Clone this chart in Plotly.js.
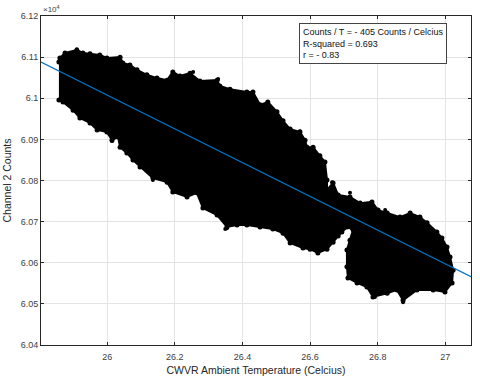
<!DOCTYPE html>
<html>
<head>
<meta charset="utf-8">
<script src="https://cdn.plot.ly/plotly-3.0.1.min.js"></script>
<style>
  html, body { margin: 0; padding: 0; background: #fff; }
  #chart { width: 480px; height: 382px; }
</style>
</head>
<body>
<div id="chart"></div>
<script>
// outline of the dense point cloud (clockwise from upper left)
const cloudT = [25.857, 25.860, 25.875, 25.910, 25.928, 25.949, 25.978, 25.999, 26.038, 26.046,
    26.067, 26.088, 26.117, 26.147, 26.177, 26.194, 26.215, 26.245, 26.274, 26.325,
    26.333, 26.363, 26.413, 26.431, 26.452, 26.475, 26.502, 26.520, 26.541, 26.570,
    26.585, 26.591, 26.609, 26.629, 26.644, 26.650, 26.650, 26.668, 26.683, 26.718,
    26.748, 26.783, 26.801, 26.828, 26.866, 26.896, 26.925, 26.946, 26.975, 26.990,
    27.005, 27.014, 27.023, 27.020, 26.999, 26.964, 26.916, 26.875, 26.857, 26.828,
    26.786, 26.768, 26.739, 26.712, 26.709, 26.709, 26.718, 26.727, 26.709, 26.694,
    26.683, 26.668, 26.650, 26.623, 26.600, 26.579, 26.541, 26.520, 26.490, 26.452,
    26.413, 26.384, 26.354, 26.325, 26.283, 26.265, 26.236, 26.194, 26.177, 26.135,
    26.097, 26.076, 26.058, 26.038, 26.032, 26.014, 25.999, 25.970, 25.949, 25.919,
    25.899, 25.869, 25.857];
const cloudCounts = [61088, 61098, 61110, 61117, 61110, 61108, 61105, 61098, 61100, 61086,
    61081, 61069, 61057, 61049, 61044, 61064, 61054, 61061, 61042, 61044,
    61030, 61022, 61015, 61015, 60984, 60991, 60967, 60945, 60925, 60918,
    60898, 60881, 60881, 60860, 60845, 60801, 60777, 60794, 60765, 60760,
    60745, 60748, 60728, 60721, 60711, 60721, 60711, 60697, 60675, 60660,
    60638, 60614, 60582, 60551, 60529, 60534, 60534, 60509, 60534, 60526,
    60517, 60541, 60551, 60563, 60590, 60631, 60655, 60680, 60687, 60675,
    60665, 60650, 60633, 60624, 60633, 60636, 60648, 60672, 60682, 60687,
    60692, 60692, 60687, 60716, 60733, 60770, 60760, 60772, 60796, 60806,
    60833, 60850, 60867, 60881, 60906, 60898, 60918, 60923, 60940, 60952,
    60971, 60991, 60996];

// loose points sitting just outside the cloud
const strayT = [25.910, 26.254, 26.280, 26.328, 26.570, 26.665, 26.718, 26.822, 26.792,
    26.354, 26.135, 26.014, 26.875, 26.269, 26.198, 26.349];
const strayCounts = [61119, 61064, 61037, 61047, 60920, 60796, 60770, 60728, 60517,
    60684, 60801, 60896, 60504, 61039, 60774, 60682];

// least-squares fit line ends
const fitT = [25.804, 27.076];
const fitCounts = [61088, 60566];

const yTicks = [60400, 60500, 60600, 60700, 60800, 60900, 61000, 61100, 61200];
const yTickText = ['6.04', '6.05', '6.06', '6.07', '6.08', '6.09', '6.1', '6.11', '6.12'];
const xTicks = [26, 26.2, 26.4, 26.6, 26.8, 27];
const xTickText = ['26', '26.2', '26.4', '26.6', '26.8', '27'];

const statLines = ['Counts / T = - 405 Counts / Celcius', 'R-squared = 0.693', 'r = - 0.83'];

const font = 'Liberation Sans, Arial, sans-serif';
const axisColor = '#262626';

Plotly.newPlot('chart', [{
    x: cloudT,
    y: cloudCounts,
    type: 'scatter',
    mode: 'lines+markers',
    fill: 'toself',
    fillcolor: '#000',
    line: { color: '#000', width: 2 },
    marker: { color: '#000', size: 5 },
    showlegend: false,
    hoverinfo: 'skip',
}, {
    x: strayT,
    y: strayCounts,
    type: 'scatter',
    mode: 'markers',
    marker: { color: '#000', size: 4 },
    showlegend: false,
}, {
    x: fitT,
    y: fitCounts,
    type: 'scatter',
    mode: 'lines',
    line: { color: '#0072BD', width: 1.2 },
    showlegend: false,
}], {
    width: 480,
    height: 382,
    margin: { l: 41, r: 9, t: 16, b: 37 },
    paper_bgcolor: '#fff',
    plot_bgcolor: '#fff',
    font: { family: font, size: 9, color: axisColor },
    xaxis: {
        range: [25.804, 27.076],
        tickvals: xTicks,
        ticktext: xTickText,
        ticks: 'inside',
        ticklen: 3,
        tickcolor: axisColor,
        showline: true,
        linecolor: axisColor,
        linewidth: 1,
        mirror: 'ticks',
        showgrid: true,
        gridcolor: '#e4e4e4',
        zeroline: false,
        ticklabelstandoff: 3,
        tickfont: { size: 9, color: '#404040' },
        title: { text: 'CWVR Ambient Temperature (Celcius)', font: { size: 10.5, color: axisColor }, standoff: 5 },
    },
    yaxis: {
        range: [60400, 61200],
        tickvals: yTicks,
        ticktext: yTickText,
        ticks: 'inside',
        ticklen: 3,
        tickcolor: axisColor,
        showline: true,
        linecolor: axisColor,
        linewidth: 1,
        mirror: 'ticks',
        showgrid: true,
        gridcolor: '#e4e4e4',
        zeroline: false,
        tickfont: { size: 9, color: '#404040' },
        title: { text: 'Channel 2 Counts', font: { size: 10.5, color: axisColor }, standoff: 6 },
    },
    annotations: [{
        xref: 'paper', yref: 'paper',
        x: 0, y: 1,
        xanchor: 'left', yanchor: 'bottom',
        text: '×10<sup>4</sup>',
        showarrow: false,
        font: { size: 8, color: '#404040' },
    }, {
        xref: 'paper', yref: 'paper',
        x: 0.6, y: 0.98,
        xanchor: 'left', yanchor: 'top',
        align: 'left',
        text: statLines.join('<br>'),
        showarrow: false,
        bgcolor: '#fff',
        bordercolor: '#444',
        borderwidth: 1,
        borderpad: 3,
        font: { size: 9, color: '#111' },
    }],
}, { displayModeBar: false, staticPlot: true });
</script>
</body>
</html>
